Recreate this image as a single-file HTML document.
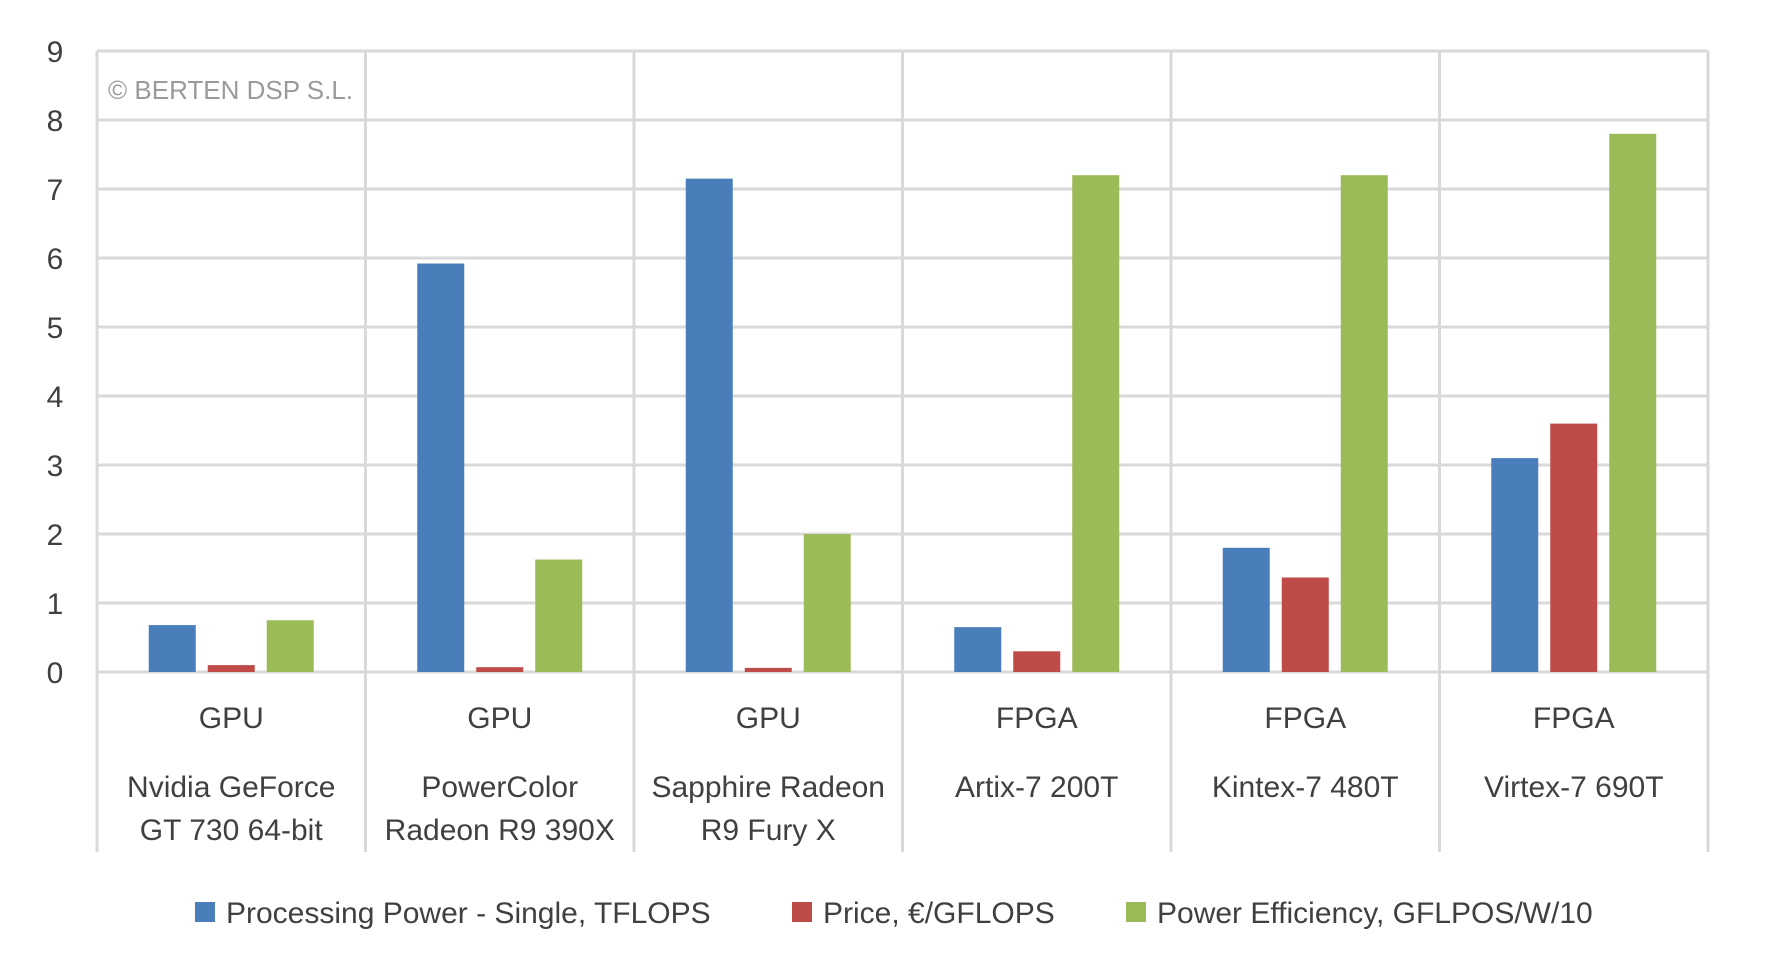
<!DOCTYPE html>
<html><head><meta charset="utf-8"><style>
html,body{margin:0;padding:0;background:#fff;}
svg{display:block;font-family:"Liberation Sans Narrow","Liberation Sans",sans-serif;}
</style></head><body>
<svg id="chart" width="1769" height="967" viewBox="0 0 1769 967" xmlns="http://www.w3.org/2000/svg">
<g id="grid"></g><g id="bars"></g><g id="labels"></g>
<text x="108" y="99" font-family="Liberation Sans, sans-serif" font-size="26" fill="#9a9a9a">© BERTEN DSP S.L.</text>
<g id="legend"></g>
</svg>
<script>
const types = ["GPU","GPU","GPU","FPGA","FPGA","FPGA"];
const names1 = ["Nvidia GeForce","PowerColor","Sapphire Radeon","Artix-7 200T","Kintex-7 480T","Virtex-7 690T"];
const names2 = ["GT 730 64-bit","Radeon R9 390X","R9 Fury X","","",""];
const powerVals = [0.68,5.92,7.15,0.65,1.8,3.1];
const priceVals = [0.1,0.07,0.06,0.3,1.37,3.6];
const effVals = [0.75,1.63,2.0,7.2,7.2,7.8];
const yTicks = [0,1,2,3,4,5,6,7,8,9];
const seriesNames = ["Processing Power - Single, TFLOPS","Price, €/GFLOPS","Power Efficiency, GFLPOS/W/10"];
const colors = ["#4a7ebb","#be4b48","#9bbb59"];
const NS="http://www.w3.org/2000/svg";
const L=97,R=1708,T=51,B=672,BOT=852;
const cw=(R-L)/types.length;
function y(v){return B-(v/9)*(B-T);}
function mk(tag,a,p){const e=document.createElementNS(NS,tag);for(const k in a)e.setAttribute(k,a[k]);p.appendChild(e);return e;}
const grid=document.getElementById('grid'),bars=document.getElementById('bars'),labels=document.getElementById('labels'),legend=document.getElementById('legend');
yTicks.forEach(t=>{
  const l=mk('line',{x1:L,x2:R,y1:y(t),y2:y(t),stroke:'#d9d9d9','stroke-width':3},grid);
  
  
  const tx=mk('text',{x:55,y:y(t)+11,'text-anchor':'middle','font-size':30,fill:'#404040'},labels);
  tx.textContent=t;
  
  
});
for(let i=0;i<=types.length;i++){
  const l=mk('line',{x1:L+i*cw,x2:L+i*cw,y1:T,y2:BOT,stroke:'#d9d9d9','stroke-width':3},grid);
  
  
}
const series=[powerVals,priceVals,effVals];
const bw=47,gap=12;
types.forEach((c,i)=>{
  const cx=L+(i+0.5)*cw;
  series.forEach((s,j)=>{
    const x=cx+(j-1)*(bw+gap)-bw/2;
    const r=mk('rect',{x:x,y:y(s[i]),width:bw,height:B-y(s[i]),fill:colors[j]},bars);
    
    
  });
  [[types[i],718],[names1[i],787],[names2[i],830]].forEach(([t,yy],k)=>{
    if(!t)return;
    const tx=mk('text',{x:cx,y:yy+10,'text-anchor':'middle','font-size':30,fill:'#404040'},labels);
    tx.textContent=t;
    
    
  });
});
const lx=[195,792,1126];
seriesNames.forEach((n,j)=>{
  const r=mk('rect',{x:lx[j],y:902,width:20,height:20,fill:colors[j]},legend);
  
  
  const tx=mk('text',{x:lx[j]+31,y:923,'font-size':30,fill:'#404040'},legend);
  tx.textContent=n;
  
  
});
</script>
</body></html>
